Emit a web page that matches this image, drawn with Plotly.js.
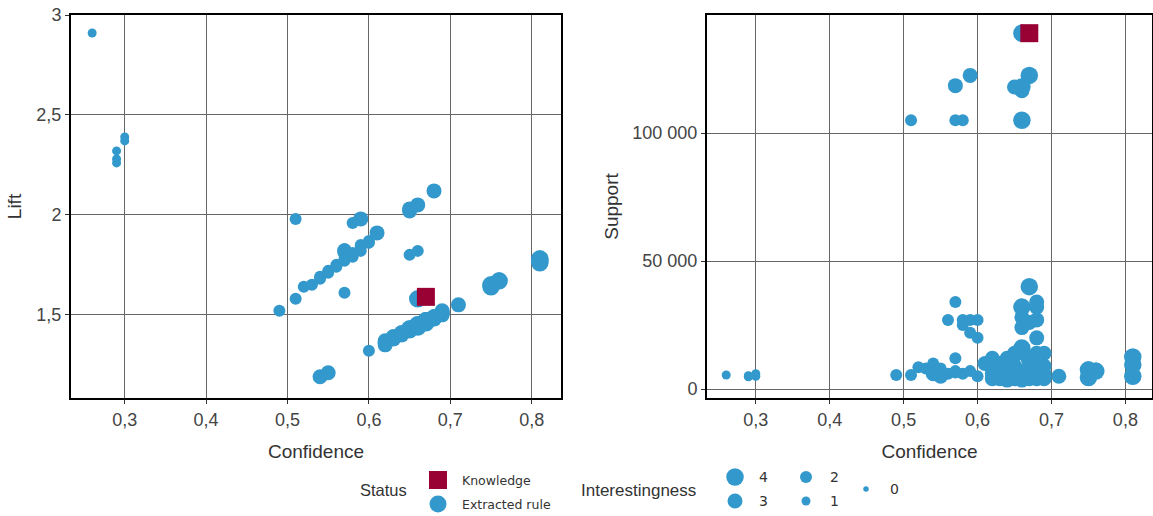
<!DOCTYPE html>
<html>
<head>
<meta charset="utf-8">
<script src="https://cdn.plot.ly/plotly-3.0.1.min.js"></script>
<style>html,body{margin:0;padding:0;background:#fff;}#chart{width:1153px;height:516px;}</style>
</head>
<body>
<div id="chart"></div>
<script>
// Extracted rules
const confidence = [
  0.26,0.29,0.29,0.29,0.30,0.30,
  0.49,0.51,0.51,0.54,0.55,0.57,0.58,0.59,0.57,0.57,
  0.52,0.53,0.54,0.54,0.55,0.55,0.56,0.56,0.57,0.57,0.58,0.58,0.58,0.59,0.59,0.59,0.60,0.60,0.61,0.57,
  0.65,0.65,0.66,0.68,0.65,0.66,0.66,
  0.60,0.62,0.62,0.62,0.63,0.63,0.63,0.64,0.64,0.64,0.65,0.65,0.65,0.66,0.66,0.66,0.66,0.66,
  0.67,0.67,0.67,0.67,0.67,0.68,0.68,0.68,0.68,0.68,0.69,0.69,0.69,0.66,0.66,
  0.62,0.63,0.64,0.65,0.67,0.68,0.69,0.66,
  0.71,0.75,0.75,0.76,0.81,0.81,0.81
];
const lift = [
  2.91,2.32,2.28,2.26,2.39,2.37,
  1.52,1.98,1.58,1.19,1.21,1.61,1.96,1.98,1.82,1.80,
  1.64,1.65,1.68,1.69,1.71,1.72,1.74,1.75,1.77,1.78,1.79,1.80,1.81,1.82,1.84,1.85,1.86,1.87,1.91,1.83,
  2.02,2.03,2.05,2.12,1.80,1.82,1.58,
  1.32,1.35,1.36,1.37,1.38,1.39,1.38,1.40,1.41,1.40,1.42,1.43,1.42,1.44,1.45,1.44,1.45,1.44,
  1.46,1.47,1.46,1.47,1.46,1.48,1.49,1.48,1.49,1.48,1.50,1.51,1.52,1.44,1.45,
  1.36,1.39,1.41,1.43,1.47,1.49,1.51,1.45,
  1.55,1.64,1.65,1.67,1.78,1.77,1.76
];
const support = [
  5500,5000,4800,5200,6000,5000,
  5500,105000,5500,6000,5000,34000,105000,122500,118500,105000,
  8500,8000,10000,6500,8000,6000,27000,6000,7000,6500,25000,27000,6000,27000,22000,7000,27000,20000,10000,12000,
  118000,13000,116500,32000,12000,30000,139000,
  5000,12000,4000,8000,4000,10000,7000,5000,9000,3500,4000,14000,9000,28000,24000,16000,6000,3500,
  122500,40000,26000,12000,4000,34000,27000,20000,9000,4000,14000,9000,4000,105000,118000,
  6000,6000,12000,8000,8000,14000,6000,32000,
  5000,4500,7500,7000,12500,9500,5000
];
const interestingness = [
  1,1,1,1,1,1,
  2,2,2,3,3,2,2,3,3,2,
  2,2,2,2,2,2,2,2,2,2,2,2,2,2,2,2,2,2,3,2,
  3,3,3,3,2,2,4,
  2,3,3,3,3,3,3,3,3,3,3,3,3,3,3,4,3,3,
  4,4,3,4,3,3,3,3,3,3,3,3,3,4,4,
  3,3,3,4,4,3,3,4,
  3,4,4,4,4,4,4
];
// Knowledge
const kConfidence = [0.67];
const kLift = [1.59];
const kSupport = [139000];

// Legend
const interestLevels = [4,3,2,1,0];
const statusLabels = ["Knowledge","Extracted rule"];

const sizeByLevel = [5.5, 9, 12, 15, 17.5];
const BLUE = "#3399CC", RED = "#990033";
const sizes = interestingness.map(v => sizeByLevel[v]);

const W = 1153, H = 516, ML = 71, MR = 1, MT = 15, MB = 118;
const PW = W - ML - MR, PH = H - MT - MB;
const px = x => (x - ML) / PW;
const py = y => (H - MB - y) / PH;

const FAM = "Liberation Sans, Arial, sans-serif";
const font = {family: FAM, size: 18, color: "#444"};

const traces = [
  {type:"scatter", mode:"markers", x:confidence, y:lift, xaxis:"x", yaxis:"y",
   marker:{color:BLUE, size:sizes, opacity:1, line:{width:0}}},
  {type:"scatter", mode:"markers", x:kConfidence, y:kLift, xaxis:"x", yaxis:"y",
   marker:{color:RED, size:18, opacity:1, symbol:"square", line:{width:0}}},
  {type:"scatter", mode:"markers", x:confidence, y:support, xaxis:"x2", yaxis:"y2",
   marker:{color:BLUE, size:sizes, opacity:1, line:{width:0}}},
  {type:"scatter", mode:"markers", x:kConfidence, y:kSupport, xaxis:"x2", yaxis:"y2",
   marker:{color:RED, size:18, opacity:1, symbol:"square", line:{width:0}}}
];

const axisCommon = {
  showgrid:true, gridcolor:"#666", gridwidth:1,
  showline:true, mirror:true, linecolor:"#000", linewidth:2,
  ticks:"outside", ticklen:4, tickcolor:"#333", tickwidth:1,
  tickfont:{family:FAM, size:18, color:"#444"},
  exponentformat:"none",
  fixedrange:true
};
const titleFont = {family:FAM, size:19, color:"#333"};

const shapes = [];
const annotations = [];
function circle(cx, cy, d, color) {
  shapes.push({type:"circle", xref:"paper", yref:"paper", xsizemode:"pixel", ysizemode:"pixel",
    xanchor:px(cx), yanchor:py(cy), x0:-d/2, x1:d/2, y0:-d/2, y1:d/2,
    fillcolor:color, line:{width:0}});
}
function square(cx, cy, d, color) {
  shapes.push({type:"rect", xref:"paper", yref:"paper", xsizemode:"pixel", ysizemode:"pixel",
    xanchor:px(cx), yanchor:py(cy), x0:-d/2, x1:d/2, y0:-d/2, y1:d/2,
    fillcolor:color, line:{width:0}});
}
function label(text, x, y, size, align, fam) {
  annotations.push({text:text, xref:"paper", yref:"paper", x:px(x), y:py(y),
    xanchor:align||"left", yanchor:"middle", showarrow:false,
    font:{family:fam||FAM, size:size, color:"#333"}});
}
label("Status", 383, 490, 16.5, "center");
square(438, 480, 18, RED);
circle(438, 504, 17, BLUE);
label(statusLabels[0], 460, 480, 12.5, "left", "DejaVu Sans");
label(statusLabels[1], 460, 504, 12.5, "left", "DejaVu Sans");
label("Interestingness", 638, 490, 17, "center");
const legPos = [[735,477],[735,501],[806,477],[806,501],[866,489]];
interestLevels.forEach((lv, i) => {
  circle(legPos[i][0], legPos[i][1], sizeByLevel[lv], BLUE);
  label(String(lv), legPos[i][0] + 22, legPos[i][1], 14, "left", "DejaVu Sans");
});

const layout = {
  width:W, height:H,
  margin:{l:ML, r:MR, t:MT, b:MB, pad:0},
  paper_bgcolor:"#fff", plot_bgcolor:"#fff",
  separators:", ",
  showlegend:false,
  font:font,
  xaxis:Object.assign({}, axisCommon, {domain:[0, (561-ML)/PW], range:[0.234, 0.836], dtick:0.1, tick0:0, zeroline:false, anchor:"y",
    title:{text:"Confidence", font:titleFont, standoff:16}}),
  yaxis:Object.assign({}, axisCommon, {domain:[0,1], range:[1.084, 3.0], dtick:0.5, tick0:0, zeroline:false, anchor:"x",
    title:{text:"Lift", font:titleFont, standoff:10}}),
  xaxis2:Object.assign({}, axisCommon, {domain:[(707-ML)/PW, 1], range:[0.234, 0.836], dtick:0.1, tick0:0, zeroline:false, anchor:"y2",
    title:{text:"Confidence", font:titleFont, standoff:16}}),
  yaxis2:Object.assign({}, axisCommon, {domain:[0,1], range:[-3500, 146100], dtick:50000, tick0:0, zeroline:true, zerolinecolor:"#666", zerolinewidth:1, anchor:"x2",
    title:{text:"Support", font:titleFont, standoff:9}}),
  shapes:shapes,
  annotations:annotations
};

Plotly.newPlot("chart", traces, layout, {displayModeBar:false, staticPlot:true});
</script>
</body>
</html>
